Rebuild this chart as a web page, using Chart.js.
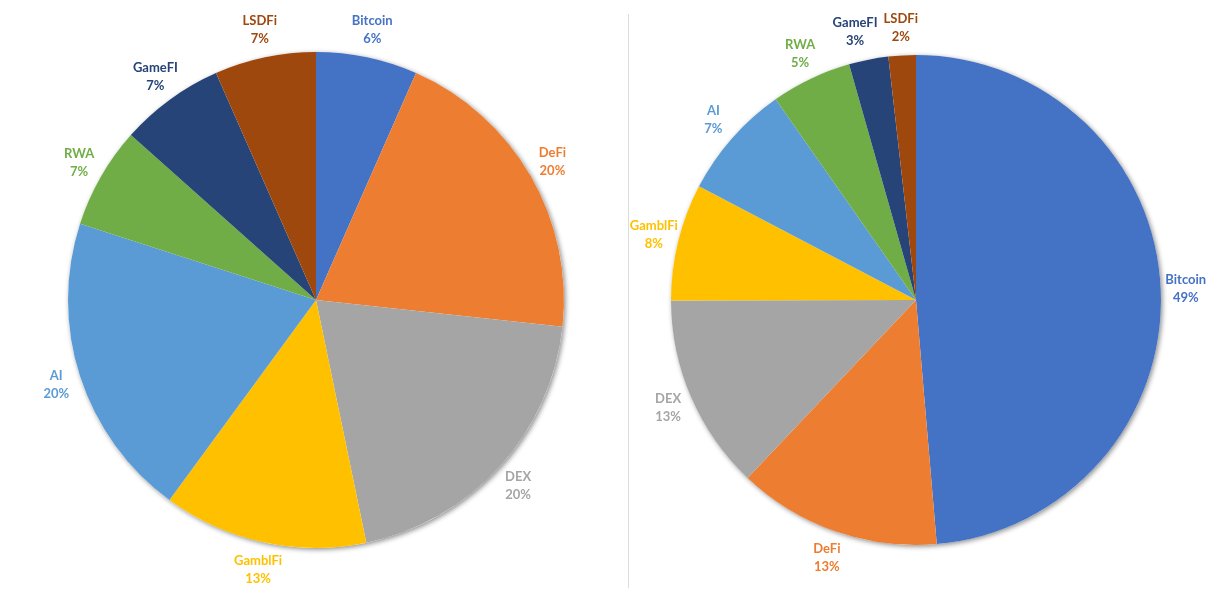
<!DOCTYPE html>
<html>
<head>
<meta charset="utf-8">
<script src="https://cdn.jsdelivr.net/npm/chart.js@4/dist/chart.umd.min.js"></script>
<style>
  html, body { margin: 0; padding: 0; background: #ffffff; }
  body { width: 1218px; height: 594px; position: relative; overflow: hidden; }
  #wrapL { position: absolute; left: 0; top: 0; width: 628px; height: 594px; }
  #wrapR { position: absolute; left: 600px; top: 0; width: 618px; height: 594px; }
  #divider { position: absolute; left: 628px; top: 14px; width: 1px; height: 574px; background: #dcdcdc; z-index: 5; }
</style>
</head>
<body>
<div id="wrapL"><canvas id="left"></canvas></div>
<div id="wrapR"><canvas id="right"></canvas></div>
<div id="divider"></div>
<script>
const categories = ["Bitcoin", "DeFi", "DEX", "GamblFi", "AI", "RWA", "GameFI", "LSDFi"];
const leftValues = [6.6, 20.1, 20.0, 13.3, 19.9, 6.6, 6.8, 6.6];
const leftLabelPct = [6, 20, 20, 13, 20, 7, 7, 7];
const rightValues = [48.6, 13.4, 12.9, 7.7, 7.6, 5.3, 2.6, 1.8];
const rightLabelPct = [49, 13, 13, 8, 7, 5, 3, 2];
const colors = ["#4472C4", "#ED7D31", "#A5A5A5", "#FFC000", "#5B9BD5", "#70AD47", "#264478", "#9E480E"];

const shadowPlugin = {
  id: 'pieShadow',
  beforeDatasetsDraw(chart) {
    const arc = chart.getDatasetMeta(0).data[0];
    if (!arc) return;
    const p = arc.getProps(['x', 'y', 'outerRadius'], true);
    const ctx = chart.ctx;
    ctx.save();
    ctx.shadowColor = 'rgba(0,0,0,0.45)';
    ctx.shadowBlur = 5;
    ctx.shadowOffsetX = 1.5;
    ctx.shadowOffsetY = 1.5;
    ctx.beginPath();
    ctx.arc(p.x, p.y, p.outerRadius, 0, Math.PI * 2);
    ctx.fillStyle = '#ffffff';
    ctx.fill();
    ctx.restore();
  }
};

const labelPlugin = {
  id: 'outsideLabels',
  afterDatasetsDraw(chart, args, opts) {
    const ctx = chart.ctx;
    const meta = chart.getDatasetMeta(0);
    const pct = opts.pct;
    ctx.save();
    ctx.font = "bold 13px Lato, 'Open Sans', sans-serif";
    ctx.textAlign = 'center';
    ctx.textBaseline = 'middle';
    const boxes = [];
    const n = meta.data.length;
    for (let i = n - 1; i >= 0; i--) {
      const arc = meta.data[i];
      const p = arc.getProps(['x', 'y', 'startAngle', 'endAngle', 'outerRadius'], true);
      const mid = (p.startAngle + p.endAngle) / 2;
      let cx = p.x + Math.cos(mid) * (p.outerRadius + 25);
      let cy = p.y + Math.sin(mid) * (p.outerRadius + 28);
      const w = Math.max(ctx.measureText(categories[i]).width, ctx.measureText(pct[i] + '%').width);
      const h = 34;
      // simple collision avoidance: push sideways away from already placed labels
      for (const b of boxes) {
        const ox = (w + b.w) / 2 + 6 - Math.abs(cx - b.cx);
        const oy = (h + b.h) / 2 - Math.abs(cy - b.cy);
        if (ox > 0 && oy > 0) {
          cx += (cx < b.cx ? -ox : ox);
        }
      }
      boxes.push({ cx, cy, w, h });
      ctx.fillStyle = colors[i];
      ctx.fillText(categories[i], cx, cy - 9);
      ctx.fillText(pct[i] + '%', cx, cy + 9);
    }
    ctx.restore();
  }
};

function makePie(id, values, pct, padding) {
  new Chart(document.getElementById(id), {
    type: 'pie',
    data: {
      labels: categories,
      datasets: [{
        data: values,
        backgroundColor: colors,
        borderWidth: 0,
        hoverOffset: 0
      }]
    },
    options: {
      responsive: true,
      maintainAspectRatio: false,
      animation: false,
      layout: { padding: padding },
      plugins: {
        legend: { display: false },
        tooltip: { enabled: false },
        outsideLabels: { pct: pct }
      }
    },
    plugins: [shadowPlugin, labelPlugin]
  });
}

makePie('left', leftValues, leftLabelPct, { left: 68, right: 64, top: 52, bottom: 46 });
makePie('right', rightValues, rightLabelPct, { left: 71, right: 57, top: 55, bottom: 49 });
</script>
</body>
</html>
